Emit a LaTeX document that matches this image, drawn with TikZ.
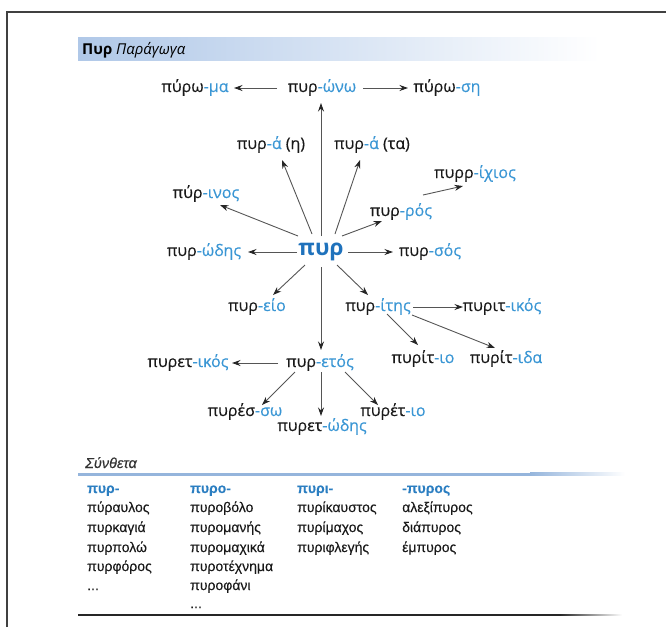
\documentclass[tikz,border=0pt]{standalone}
\usepackage{fontspec}
\setmainfont{Open Sans}
\newfontfamily\medf{Open Sans}[FakeBold=0.35]
\newfontfamily\arialf{Liberation Sans}[FakeBold=0.15]
\usetikzlibrary{arrows.meta,calc}
\definecolor{sufblue}{HTML}{3A96D4}
\definecolor{rootblue}{HTML}{1F72BC}
\definecolor{headblue}{HTML}{2B7EC1}
\definecolor{barblue}{HTML}{B0C8E8}
\definecolor{lineblue}{HTML}{95B5DC}
\definecolor{arrgray}{HTML}{555555}
\newcommand{\suf}[1]{\textcolor{sufblue}{-#1}}
\tikzset{
  lbl/.style={inner sep=0pt, font=\medf\fontsize{16}{18}\selectfont, text=black!90, text height=11pt, text depth=3pt},
  arr/.style={draw=arrgray, line width=0.9pt, -{Stealth[length=8.5pt,width=6pt,color=black!85]}},
  comp/.style={anchor=base west, inner sep=0pt, font=\arialf\fontsize{14}{16}\selectfont, text=black!90},
  comphead/.style={comp, font=\arialf\bfseries\fontsize{14}{16}\selectfont, text=headblue}
}
\begin{document}
\begin{tikzpicture}[x=1pt,y=-1pt]
\useasboundingbox (0,0) rectangle (666,627);
% frame
\draw[black!75, line width=1.3pt] (7,627) -- (7,12) -- (666,12);
% title bar
\shade[left color=barblue, right color=white] (78,37) rectangle (600,60);
\node[anchor=base west, inner sep=0pt, font=\fontsize{15}{17}\selectfont] (title) at (82,54) {\textbf{Πυρ} \textit{Παράγωγα}};
% nodes
\node[inner sep=0pt, font=\bfseries\fontsize{22.5}{24}\selectfont, text=rootblue] (pyr) at (321,252) {πυρ};
\node[lbl] (pyrono) at (322,88) {πυρ\suf{ώνω}};
\node[lbl] (pyroma) at (195,88) {πύρω\suf{μα}};
\node[lbl] (pyrosi) at (447,88) {πύρω\suf{ση}};
\node[lbl] (pyraeta) at (271,145) {πυρ\suf{ά} (η)};
\node[lbl] (pyrata) at (372,145) {πυρ\suf{ά} (τα)};
\node[lbl] (pyrrichios) at (475,174) {πυρρ\suf{ίχιος}};
\node[lbl] (pyrinos) at (206,194) {πύρ\suf{ινος}};
\node[lbl] (pyros) at (401,212) {πυρ\suf{ρός}};
\node[lbl] (pyrodis) at (204,252) {πυρ\suf{ώδης}};
\node[lbl] (pyrsos) at (430,252) {πυρ\suf{σός}};
\node[lbl] (pyreio) at (257,307) {πυρ\suf{είο}};
\node[lbl] (pyritis) at (378,307) {πυρ\suf{ίτης}};
\node[lbl] (pyritikos) at (502,307) {πυριτ\suf{ικός}};
\node[lbl] (pyritio) at (423,359) {πυρίτ\suf{ιο}};
\node[lbl] (pyritida) at (506,359) {πυρίτ\suf{ιδα}};
\node[lbl] (pyretikos) at (188,363) {πυρετ\suf{ικός}};
\node[lbl] (pyretos) at (320,363) {πυρ\suf{ετός}};
\node[lbl] (pyresso) at (245,412) {πυρέσ\suf{σω}};
\node[lbl] (pyretodis) at (322,427) {πυρετ\suf{ώδης}};
\node[lbl] (pyreto) at (393,412) {πυρέτ\suf{ιο}};
% arrows
\draw[arr] ($(pyr)+(0,-16)$) -- ($(pyrono)+(-1,15)$);
\draw[arr] ($(pyr)+(-9,-18)$) -- ($(pyraeta)+(11,15)$);
\draw[arr] ($(pyr)+(14,-18)$) -- ($(pyrata)+(-12,15)$);
\draw[arr] ($(pyr)+(-23,-16)$) -- ($(pyrinos)+(14,11)$);
\draw[arr] ($(pyr)+(21,-16)$) -- ($(pyros)+(-19,9)$);
\draw[arr] ($(pyr)+(-24,0)$) -- ($(pyrodis)+(44,0)$);
\draw[arr] ($(pyr)+(27,0)$) -- ($(pyrsos)+(-37,0)$);
\draw[arr] ($(pyr)+(-16,13)$) -- ($(pyreio)+(16,-12)$);
\draw[arr] ($(pyr)+(16,13)$) -- ($(pyritis)+(-10,-12)$);
\draw[arr] ($(pyr)+(0,15)$) -- ($(pyretos)+(1,-13)$);
\draw[arr] ($(pyrono)+(-45,0)$) -- ($(pyroma)+(39,0)$);
\draw[arr] ($(pyrono)+(41,0)$) -- ($(pyrosi)+(-39,0)$);
\draw[arr] ($(pyros)+(22,-17)$) -- ($(pyrrichios)+(-12,12)$);
\draw[arr] ($(pyritis)+(35,0)$) -- ($(pyritikos)+(-39,0)$);
\draw[arr] ($(pyritis)+(9,7)$) -- ($(pyritio)+(-5,-14)$);
\draw[arr] ($(pyritis)+(34,8)$) -- ($(pyritida)+(-11,-11)$);
\draw[arr] ($(pyretos)+(-42,0)$) -- ($(pyretikos)+(44,0)$);
\draw[arr] ($(pyretos)+(-25,9)$) -- ($(pyresso)+(17,-7)$);
\draw[arr] ($(pyretos)+(1,9)$) -- ($(pyretodis)+(-1,-11)$);
\draw[arr] ($(pyretos)+(25,9)$) -- ($(pyreto)+(-15,-7)$);
% compounds section
\node[anchor=base west, inner sep=0pt, font=\arialf\itshape\fontsize{14.5}{16}\selectfont, text=black!80] (synth) at (85,468) {Σύνθετα};
\fill[lineblue] (78,472.5) rectangle (532,475.5);
\shade[left color=lineblue, right color=white] (530,472.5) rectangle (625,475.5);
\node[comphead] (h1) at (87,493) {πυρ-};
\node[comphead] (h2) at (190,493) {πυρο-};
\node[comphead] (h3) at (297,493) {πυρι-};
\node[comphead] (h4) at (402,493) {-πυρος};
\node[comp] (a1) at (87,512) {πύραυλος};
\node[comp] (a2) at (87,532) {πυρκαγιά};
\node[comp] (a3) at (87,552) {πυρπολώ};
\node[comp] (a4) at (87,571) {πυρφόρος};
\node[comp] (a5) at (87,590) {...};
\node[comp] (b1) at (190,512) {πυροβόλο};
\node[comp] (b2) at (190,532) {πυρομανής};
\node[comp] (b3) at (190,552) {πυρομαχικά};
\node[comp] (b4) at (190,571) {πυροτέχνημα};
\node[comp] (b5) at (190,590) {πυροφάνι};
\node[comp] (b6) at (190,608) {...};
\node[comp] (c1) at (297,512) {πυρίκαυστος};
\node[comp] (c2) at (297,532) {πυρίμαχος};
\node[comp] (c3) at (297,552) {πυριφλεγής};
\node[comp] (d1) at (402,512) {αλεξίπυρος};
\node[comp] (d2) at (402,532) {διάπυρος};
\node[comp] (d3) at (402,552) {έμπυρος};
% bottom rule
\fill[black!85] (78,614.3) rectangle (562,615.7);
\shade[left color=black!85, right color=white] (560,614.3) rectangle (622,615.7);
\end{tikzpicture}
\end{document}
